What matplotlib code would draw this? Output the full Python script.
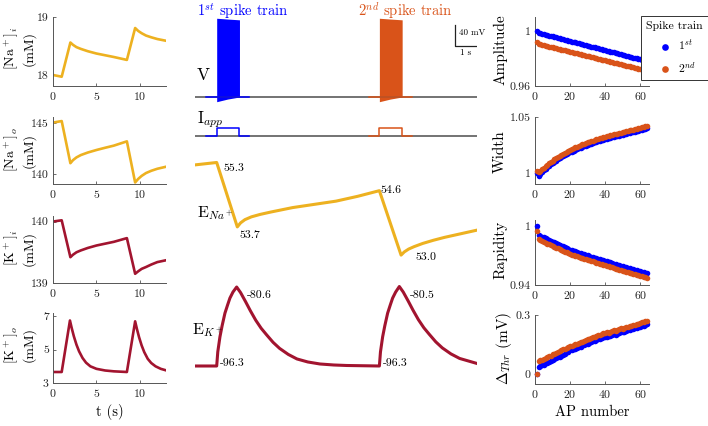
import matplotlib.pyplot as plt
from matplotlib.lines import Line2D
from matplotlib.ticker import FormatStrFormatter

plt.rcParams.update({
    "font.family": "serif",
    "font.serif": ["cmr10"],
    "mathtext.fontset": "cm",
    "axes.formatter.use_mathtext": True,
    "axes.unicode_minus": False,
})

NA_COL = "#EDB120"
K_COL = "#A2142F"
C1 = "#0000FF"
C2 = "#D95319"
GREY = "#4D4D4D"

# ---- left column: ion concentrations vs time (s)
t_conc = [0, 1, 2, 2.3, 2.7, 3.2, 4, 5, 6, 7, 8.5, 9.45, 9.8, 10.2, 10.7, 11.3, 12, 13]
na_i = [18.0, 17.97, 18.56, 18.52, 18.48, 18.45, 18.41, 18.37, 18.34, 18.31, 18.26,
        18.81, 18.76, 18.72, 18.68, 18.65, 18.62, 18.59]
na_o = [145.05, 145.2, 141.05, 141.35, 141.62, 141.85, 142.1, 142.35, 142.57, 142.78, 143.2,
        139.15, 139.5, 139.8, 140.08, 140.3, 140.5, 140.7]
k_i = [140.0, 140.02, 139.42, 139.46, 139.5, 139.53, 139.57, 139.61, 139.64, 139.67, 139.73,
       139.15, 139.19, 139.23, 139.26, 139.3, 139.34, 139.37]
t_ko = [0, 1, 1.95, 2.15, 2.4, 2.7, 3.0, 3.4, 3.8, 4.3, 5.0, 6.0, 7.0, 8.5,
        9.45, 9.65, 9.9, 10.2, 10.5, 10.9, 11.3, 11.8, 12.4, 13]
k_o = [3.66, 3.66, 6.75, 6.3, 5.8, 5.3, 4.9, 4.5, 4.22, 4.0, 3.85, 3.75, 3.7, 3.66,
       6.7, 6.25, 5.75, 5.25, 4.85, 4.45, 4.2, 4.0, 3.85, 3.76]

# ---- middle column: traces
t_base = [0, 13]
v_base = [-65, -65]
t_on1 = [0.5, 1.0, 1.0, 2.05, 2.05, 2.5]
t_on2 = [8.0, 8.5, 8.5, 9.55, 9.55, 10.0]
i_on = [0, 0, 1, 1, 0, 0]
t_train1 = [1.0, 1.5, 2.05]
t_train2 = [8.5, 9.0, 9.55]
v_top = [85, 83.5, 82]
v_bot = [-74, -69, -65]

t_ena = [0, 1, 1.95, 2.1, 2.3, 2.6, 3.0, 3.5, 4.5, 5.5, 6.5, 7.5, 8.5,
         9.5, 9.65, 9.85, 10.1, 10.5, 11.0, 11.5, 12.0, 12.5, 13]
e_na = [55.24, 55.3, 53.7, 53.8, 53.88, 53.95, 54.01, 54.07, 54.18, 54.26, 54.34, 54.46, 54.6,
        53.0, 53.08, 53.15, 53.21, 53.29, 53.37, 53.44, 53.5, 53.56, 53.62]
t_ek = [0, 1.0, 1.05, 1.15, 1.25, 1.38, 1.5, 1.61, 1.75, 1.92,
        2.1, 2.33, 2.55, 2.8, 3.05, 3.3, 3.6, 3.9, 4.3, 4.7, 5.2, 5.76, 6.4, 7.0, 8.5,
        8.55, 8.65, 8.75, 8.88, 9.0, 9.11, 9.25, 9.42,
        9.6, 9.83, 10.05, 10.3, 10.55, 10.8, 11.1, 11.4, 11.8, 12.2, 12.6, 13]
e_k = [-96.3, -96.3, -93.5, -90.5, -88.3, -85.8, -84.2, -82.8, -81.6, -80.6,
       -81.7, -83.5, -85.3, -87.2, -88.8, -90.1, -91.6, -92.8, -94.0, -94.9, -95.5, -95.9,
       -96.1, -96.2, -96.3,
       -93.5, -90.5, -88.3, -85.8, -84.2, -82.8, -81.6, -80.5,
       -81.6, -83.4, -85.2, -87.1, -88.7, -90.0, -91.5, -92.7, -93.9, -94.8, -95.3, -95.8]

# ---- right column: spike features per AP
ap = list(range(1, 65))
amp1 = [1.0000, 0.9985, 0.9982, 0.9978, 0.9975, 0.9972, 0.9968, 0.9965, 0.9962, 0.9959,
        0.9955, 0.9952, 0.9949, 0.9945, 0.9942, 0.9939, 0.9935, 0.9932, 0.9929, 0.9926,
        0.9922, 0.9919, 0.9916, 0.9912, 0.9909, 0.9906, 0.9902, 0.9899, 0.9896, 0.9892,
        0.9889, 0.9886, 0.9883, 0.9879, 0.9876, 0.9873, 0.9869, 0.9866, 0.9863, 0.9859,
        0.9856, 0.9853, 0.9849, 0.9846, 0.9843, 0.9840, 0.9836, 0.9833, 0.9830, 0.9826,
        0.9823, 0.9820, 0.9816, 0.9813, 0.9810, 0.9806, 0.9803, 0.9800, 0.9797, 0.9793,
        0.9790, 0.9787, 0.9783, 0.9780]
amp2 = [0.9920, 0.9905, 0.9902, 0.9899, 0.9896, 0.9892, 0.9889, 0.9886, 0.9883, 0.9880,
        0.9877, 0.9874, 0.9870, 0.9867, 0.9864, 0.9861, 0.9858, 0.9855, 0.9852, 0.9849,
        0.9845, 0.9842, 0.9839, 0.9836, 0.9833, 0.9830, 0.9827, 0.9824, 0.9820, 0.9817,
        0.9814, 0.9811, 0.9808, 0.9805, 0.9802, 0.9798, 0.9795, 0.9792, 0.9789, 0.9786,
        0.9783, 0.9780, 0.9777, 0.9773, 0.9770, 0.9767, 0.9764, 0.9761, 0.9758, 0.9755,
        0.9752, 0.9748, 0.9745, 0.9742, 0.9739, 0.9736, 0.9733, 0.9730, 0.9726, 0.9723,
        0.9720, 0.9717, 0.9714, 0.9711]
wid1 = [1.0000, 0.9975, 0.9992, 1.0008, 1.0023, 1.0037, 1.0050, 1.0063, 1.0075, 1.0087,
        1.0098, 1.0109, 1.0120, 1.0130, 1.0140, 1.0149, 1.0158, 1.0167, 1.0175, 1.0183,
        1.0191, 1.0198, 1.0205, 1.0212, 1.0219, 1.0226, 1.0232, 1.0238, 1.0244, 1.0250,
        1.0256, 1.0262, 1.0267, 1.0272, 1.0277, 1.0282, 1.0287, 1.0292, 1.0297, 1.0302,
        1.0306, 1.0310, 1.0314, 1.0318, 1.0322, 1.0326, 1.0330, 1.0334, 1.0338, 1.0342,
        1.0346, 1.0350, 1.0354, 1.0358, 1.0362, 1.0366, 1.0370, 1.0374, 1.0378, 1.0382,
        1.0386, 1.0390, 1.0394, 1.0398]
wid2 = [1.0015, 1.0005, 1.0015, 1.0030, 1.0045, 1.0059, 1.0072, 1.0085, 1.0097, 1.0109,
        1.0120, 1.0131, 1.0142, 1.0152, 1.0162, 1.0171, 1.0180, 1.0189, 1.0197, 1.0205,
        1.0213, 1.0220, 1.0227, 1.0234, 1.0241, 1.0248, 1.0254, 1.0260, 1.0266, 1.0272,
        1.0278, 1.0284, 1.0289, 1.0294, 1.0299, 1.0304, 1.0309, 1.0314, 1.0319, 1.0324,
        1.0328, 1.0332, 1.0336, 1.0340, 1.0344, 1.0348, 1.0352, 1.0356, 1.0360, 1.0364,
        1.0368, 1.0372, 1.0376, 1.0380, 1.0384, 1.0388, 1.0392, 1.0396, 1.0400, 1.0404,
        1.0408, 1.0412, 1.0416, 1.0420]
rap1 = [1.0000, 0.9910, 0.9901, 0.9892, 0.9883, 0.9874, 0.9866, 0.9857, 0.9848, 0.9840,
        0.9832, 0.9824, 0.9816, 0.9808, 0.9800, 0.9792, 0.9784, 0.9776, 0.9768, 0.9760,
        0.9754, 0.9748, 0.9742, 0.9736, 0.9730, 0.9724, 0.9718, 0.9712, 0.9706, 0.9700,
        0.9695, 0.9689, 0.9684, 0.9678, 0.9673, 0.9667, 0.9662, 0.9656, 0.9651, 0.9645,
        0.9640, 0.9634, 0.9629, 0.9623, 0.9618, 0.9612, 0.9607, 0.9601, 0.9596, 0.9590,
        0.9585, 0.9580, 0.9575, 0.9570, 0.9565, 0.9560, 0.9555, 0.9550, 0.9545, 0.9540,
        0.9535, 0.9530, 0.9525, 0.9520]
rap2 = [0.9950, 0.9865, 0.9856, 0.9847, 0.9838, 0.9829, 0.9821, 0.9812, 0.9803, 0.9795,
        0.9787, 0.9779, 0.9771, 0.9763, 0.9755, 0.9747, 0.9739, 0.9731, 0.9723, 0.9715,
        0.9709, 0.9703, 0.9697, 0.9691, 0.9685, 0.9679, 0.9673, 0.9667, 0.9661, 0.9655,
        0.9650, 0.9644, 0.9639, 0.9633, 0.9628, 0.9622, 0.9617, 0.9611, 0.9606, 0.9600,
        0.9595, 0.9589, 0.9584, 0.9578, 0.9573, 0.9567, 0.9562, 0.9556, 0.9551, 0.9545,
        0.9540, 0.9535, 0.9530, 0.9525, 0.9520, 0.9515, 0.9510, 0.9505, 0.9500, 0.9495,
        0.9490, 0.9485, 0.9480, 0.9475]
thr1 = [0.000, 0.035, 0.040, 0.045, 0.048, 0.055, 0.058, 0.062, 0.068, 0.072,
        0.075, 0.080, 0.085, 0.088, 0.094, 0.098, 0.102, 0.110, 0.114, 0.120,
        0.122, 0.126, 0.128, 0.134, 0.136, 0.140, 0.146, 0.148, 0.152, 0.155,
        0.158, 0.162, 0.166, 0.170, 0.172, 0.176, 0.180, 0.182, 0.186, 0.190,
        0.188, 0.192, 0.196, 0.198, 0.202, 0.200, 0.206, 0.208, 0.212, 0.214,
        0.216, 0.220, 0.222, 0.224, 0.228, 0.230, 0.232, 0.236, 0.238, 0.240,
        0.242, 0.246, 0.248, 0.252]
thr2 = [0.000, 0.065, 0.070, 0.072, 0.078, 0.082, 0.086, 0.092, 0.094, 0.100,
        0.102, 0.106, 0.114, 0.116, 0.120, 0.126, 0.128, 0.132, 0.138, 0.142,
        0.144, 0.148, 0.152, 0.154, 0.160, 0.162, 0.165, 0.170, 0.172, 0.176,
        0.180, 0.182, 0.188, 0.190, 0.192, 0.198, 0.200, 0.204, 0.208, 0.210,
        0.212, 0.210, 0.216, 0.218, 0.222, 0.220, 0.226, 0.228, 0.232, 0.230,
        0.236, 0.238, 0.240, 0.244, 0.242, 0.248, 0.250, 0.252, 0.256, 0.258,
        0.262, 0.264, 0.268, 0.272]

W, H = 708, 426
fig = plt.figure(figsize=(W / 100, H / 100), dpi=100)


def rect(x0, y0, x1, y1):
    # pixel box (top-left origin) -> figure fraction
    return [x0 / W, 1 - y1 / H, (x1 - x0) / W, (y1 - y0) / H]


def style(ax, xlim, ylim, xticks, yticks):
    ax.set_xlim(*xlim)
    ax.set_ylim(*ylim)
    ax.set_xticks(xticks)
    ax.set_yticks(yticks)
    ax.yaxis.set_major_formatter(FormatStrFormatter("%g"))
    for s in ["top", "right"]:
        ax.spines[s].set_visible(False)
    for s in ["left", "bottom"]:
        ax.spines[s].set_color("#555555")
        ax.spines[s].set_linewidth(0.7)
    ax.tick_params(direction="in", length=2.5, width=0.6, colors="#555555",
                   labelcolor="#222222", labelsize=8.5, pad=3)


def ftext(x, y, s, **kw):
    fig.text(x / W, 1 - y / H, s, **kw)


# left column
left = [
    (rect(53, 17, 166, 86), t_conc, na_i, NA_COL, (17.81, 19), [18, 19], r"[Na$^+$]$_i$", 48),
    (rect(53, 117, 166, 184), t_conc, na_o, NA_COL, (139.0, 145.6), [140, 145], r"[Na$^+$]$_o$", 150),
    (rect(53, 216, 166, 283), t_conc, k_i, K_COL, (139, 140.09), [139, 140], r"[K$^+$]$_i$", 248),
    (rect(53, 313, 166, 383), t_ko, k_o, K_COL, (3, 7.2), [3, 5, 7], r"[K$^+$]$_o$", 345),
]
for r, tx, y, col, ylim, yt, lab, ly in left:
    ax = fig.add_axes(r)
    ax.plot(tx, y, color=col, lw=1.9)
    style(ax, (0, 13), ylim, [0, 5, 10], yt)
    ftext(12, ly, lab, rotation=90, ha="center", va="center", fontsize=10)
    ftext(29, ly, "(mM)", rotation=90, ha="center", va="center", fontsize=10)
ftext(110, 412, "t (s)", ha="center", va="center", fontsize=10.5)

# middle column traces
ax_v = fig.add_axes(rect(195, 0, 477, 110))
ax_i = fig.add_axes(rect(195, 115, 477, 145))
ax_na = fig.add_axes(rect(195, 150, 477, 270))
ax_k = fig.add_axes(rect(195, 275, 477, 400))
for ax in (ax_v, ax_i, ax_na, ax_k):
    ax.set_xlim(0, 13)
    ax.axis("off")
ax_v.set_ylim(-89.8, 119.8)
ax_i.set_ylim(-1.125, 2.625)
ax_na.set_ylim(52.63, 55.61)
ax_k.set_ylim(-103.06, -78.21)

ax_v.plot(t_base, v_base, color=GREY, lw=1.1)
ax_v.plot(t_on1, [-65] * 6, color=C1, lw=1.1)
ax_v.plot(t_on2, [-65] * 6, color=C2, lw=1.1)
ax_v.fill_between(t_train1, v_bot, v_top, color=C1, lw=0)
ax_v.fill_between(t_train2, v_bot, v_top, color=C2, lw=0)

ax_i.plot(t_base, [0, 0], color=GREY, lw=1.1)
ax_i.plot(t_on1, i_on, color=C1, lw=1.1)
ax_i.plot(t_on2, i_on, color=C2, lw=1.1)

ax_na.plot(t_ena, e_na, color=NA_COL, lw=2.2)
ax_k.plot(t_ek, e_k, color=K_COL, lw=2.2)

ax_v.text(0.09, 89.5, r"1$^{st}$ spike train", color=C1, fontsize=10.5, va="baseline")
ax_v.text(7.51, 89.5, r"2$^{nd}$ spike train", color=C2, fontsize=10.5, va="baseline")
ax_v.text(0.09, -23, "V", fontsize=12.5, va="center")
ax_i.text(0.09, 2.1, r"I$_{app}$", fontsize=12, va="center")

# scale bar
ax_v.plot([11.98, 11.98, 12.98], [72.2, 32.2, 32.2], color="#222222", lw=0.9)
ax_v.text(12.17, 57, "40 mV", fontsize=6.5, va="center")
ax_v.text(12.45, 19, "1 s", fontsize=6.5, va="center", ha="center")

ax_na.text(0.09, 54.04, r"E$_{Na^+}$", fontsize=11.5, va="center")
ax_na.text(1.3, 55.16, "55.3", fontsize=8.5, va="center")
ax_na.text(2.07, 53.5, "53.7", fontsize=8.5, va="center")
ax_na.text(8.53, 54.62, "54.6", fontsize=8.5, va="center")
ax_na.text(10.14, 52.95, "53.0", fontsize=8.5, va="center")

ax_k.text(-0.14, -89.1, r"E$_{K^+}$", fontsize=11.5, va="center")
ax_k.text(2.4, -82.2, "-80.6", fontsize=8.5, va="center")
ax_k.text(1.15, -95.7, "-96.3", fontsize=8.5, va="center")
ax_k.text(9.91, -82.2, "-80.5", fontsize=8.5, va="center")
ax_k.text(8.66, -95.7, "-96.3", fontsize=8.5, va="center")

# right column
right = [
    (rect(535, 17, 649, 86), amp1, amp2, (0.96, 1.01), [0.96, 1], "Amplitude", 500, 50),
    (rect(535, 117, 649, 184), wid1, wid2, (0.99, 1.05), [1, 1.05], "Width", 500, 152),
    (rect(535, 220, 649, 285), rap1, rap2, (0.94, 1.006), [0.94, 1], "Rapidity", 500, 250),
    (rect(535, 315, 649, 384), thr1, thr2, (-0.05, 0.3), [0, 0.3], r"$\Delta_{Thr}$ (mV)", 504, 348),
]
handles = None
for r, y1, y2, ylim, yt, lab, lx, ly in right:
    ax = fig.add_axes(r)
    h1 = ax.scatter(ap, y1, s=16, color=C1, lw=0, clip_on=False, zorder=3)
    h2 = ax.scatter(ap, y2, s=16, color=C2, lw=0, clip_on=False, zorder=3)
    if handles is None:
        handles = [h1, h2]
    style(ax, (0, 65), ylim, [0, 20, 40, 60], yt)
    ftext(lx, ly, lab, rotation=90, ha="center", va="center", fontsize=11)
ftext(592, 412, "AP number", ha="center", va="center", fontsize=10.5)

leg = fig.legend(handles, [r"1$^{st}$", r"2$^{nd}$"], title="Spike train",
                 loc="upper right", bbox_to_anchor=(1.0, 1 - 16 / H),
                 borderaxespad=0.0,
                 fontsize=8.5, title_fontsize=8.5, fancybox=False,
                 edgecolor="#333333", framealpha=1, handletextpad=0.1,
                 borderpad=0.45, labelspacing=0.55, scatterpoints=1,
                 markerscale=1.2)
leg.get_frame().set_linewidth(0.7)

# separator line under the legend title
fig.canvas.draw()
inv = fig.transFigure.inverted()
fb = leg.get_frame().get_window_extent()
tb = leg.get_title().get_window_extent()
(x0, _), (x1, _) = inv.transform([[fb.x0, 0], [fb.x1, 0]])
ysep = inv.transform([[0, tb.y0 - 3]])[0][1]
fig.add_artist(Line2D([x0, x1], [ysep, ysep], color="#333333", lw=0.7,
                      transform=fig.transFigure))

fig.savefig("out.png", dpi=100)
